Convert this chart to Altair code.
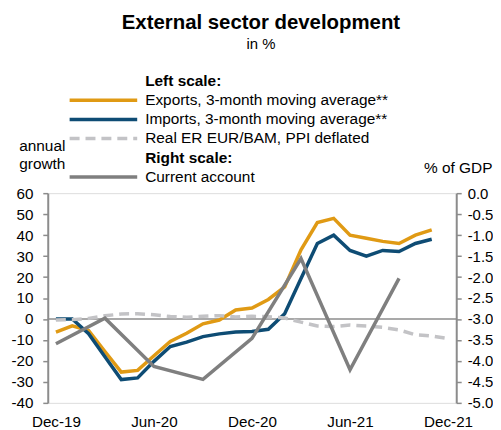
import altair as alt
import pandas as pd

# ---------------- data ----------------
months = ["Dec-19", "Jan-20", "Feb-20", "Mar-20", "Apr-20", "May-20", "Jun-20",
          "Jul-20", "Aug-20", "Sep-20", "Oct-20", "Nov-20", "Dec-20", "Jan-21",
          "Feb-21", "Mar-21", "Apr-21", "May-21", "Jun-21", "Jul-21", "Aug-21",
          "Sep-21", "Oct-21", "Nov-21", "Dec-21"]
x_tick_labels = ["Dec-19", "Jun-20", "Dec-20", "Jun-21", "Dec-21"]
left_ticks = [-40, -30, -20, -10, 0, 10, 20, 30, 40, 50, 60]
right_ticks = [-5.0, -4.5, -4.0, -3.5, -3.0, -2.5, -2.0, -1.5, -1.0, -0.5, 0.0]

exports = [-6.3, -3.3, -5.5, -15.5, -25.3, -24.5, -17.5, -10.7, -6.8, -2.3, -0.5,
           4.3, 5.2, 9.3, 15.3, 33.0, 46.0, 48.0, 40.0, 38.5, 37.0, 36.0, 40.0, 42.5]
imports = [0.0, 0.0, -7.0, -18.0, -28.9, -28.1, -20.2, -13.1, -11.0, -8.4, -7.1,
           -6.2, -6.0, -4.9, 2.5, 19.3, 36.0, 40.0, 32.7, 30.0, 32.7, 32.2, 36.0, 38.0]
real_er = [-0.5, -0.3, 0.3, 1.5, 2.4, 2.5, 2.0, 1.2, 0.8, 1.3, 1.6, 1.0, 1.3,
           1.1, 0.5, -1.5, -3.3, -3.6, -2.9, -3.3, -4.0, -5.2, -7.5, -8.1, -9.3]
ca_quarters = ["Dec-19", "Mar-20", "Jun-20", "Sep-20", "Dec-20", "Mar-21", "Jun-21", "Sep-21"]
current_account = [-3.59, -2.98, -4.13, -4.44, -3.46, -1.56, -4.21, -2.03]

legend_labels = ["Exports, 3-month moving average**",
                 "Imports, 3-month moving average**",
                 "Real ER EUR/BAM, PPI deflated",
                 "Current account"]
legend_heads = ["Left scale:", "Right scale:"]

FONT = "Liberation Sans"
W, H = 411, 211
C_EXP = "#E09A14"
C_IMP = "#0E4C74"
C_ER = "#C3C3C6"
C_CA = "#7F7F7F"
C_AX = "#8C8C8C"

exp_df = pd.DataFrame({"month": months[:len(exports)], "value": exports})
imp_df = pd.DataFrame({"month": months[:len(imports)], "value": imports})
er_df = pd.DataFrame({"month": months, "value": real_er})
ca_df = pd.DataFrame({"month": ca_quarters, "value": current_account})

x_scale = alt.Scale(type="point", domain=months, padding=0.5)
x_axis = alt.Axis(values=x_tick_labels, labelAngle=0, domain=False, ticks=False,
                  labelPadding=12, labelFontSize=15.3, labelColor="#000000",
                  labelFont=FONT, title=None, grid=False)
X = alt.X("month:O", scale=x_scale, axis=x_axis)

left_scale = alt.Scale(domain=[-40, 60], nice=False, zero=False)
left_axis = alt.Axis(values=left_ticks, orient="left", domainColor=C_AX, domainWidth=2,
                     tickColor=C_AX, tickWidth=1.5, tickSize=5, labelPadding=10,
                     labelFontSize=15.3, labelColor="#000000", labelFont=FONT,
                     title=None, grid=False,
                     labelExpr="replace(format(datum.value, 'd'), '\u2212', '-')")
right_scale = alt.Scale(domain=[-5, 0], nice=False, zero=False)
right_axis = alt.Axis(values=right_ticks, orient="right", domainColor=C_AX, domainWidth=2,
                      tickColor=C_AX, tickWidth=1.5, tickSize=5, labelPadding=6,
                      labelFontSize=15, labelColor="#000000", labelFont=FONT,
                      title=None, grid=False,
                      labelExpr="replace(format(datum.value, '.1f'), '\u2212', '-')")


def YL(field="value"):
    return alt.Y(f"{field}:Q", scale=left_scale, axis=left_axis)


zero_rule = alt.Chart(pd.DataFrame({"value": [0]})).mark_rule(
    color=C_AX, strokeWidth=1.5).encode(y=YL())

exp_line = alt.Chart(exp_df).mark_line(color=C_EXP, strokeWidth=3.5).encode(x=X, y=YL())
imp_line = alt.Chart(imp_df).mark_line(color=C_IMP, strokeWidth=3.5).encode(x=X, y=YL())
er_line = alt.Chart(er_df).mark_line(color=C_ER, strokeWidth=3.5,
                                      strokeDash=[10, 6]).encode(x=X, y=YL())

ca_line = alt.Chart(ca_df).mark_line(color=C_CA, strokeWidth=3.5).encode(
    x=X, y=alt.Y("value:Q", scale=right_scale, axis=right_axis))


def text_layer(txt, x, y, size=15.5, bold=False, align="left"):
    return alt.Chart(pd.DataFrame({"t": [txt]})).mark_text(
        align=align, baseline="middle", font=FONT, fontSize=size,
        fontWeight="bold" if bold else "normal", color="#000000"
    ).encode(text="t:N", x=alt.value(x), y=alt.value(y))


def legend_rule(color, y, dash=None):
    kw = dict(color=color, strokeWidth=3.5)
    if dash:
        kw["strokeDash"] = dash
    return alt.Chart(pd.DataFrame({"t": [0]})).mark_rule(**kw).encode(
        x=alt.value(22), x2=alt.value(90), y=alt.value(y))


annotations = [
    text_layer("External sector development", 214.5, -171, size=20.5, bold=True, align="center"),
    text_layer("in %", 214.5, -150, size=15, align="center"),
    text_layer(legend_heads[0], 98, -113, bold=True),
    legend_rule(C_EXP, -93.5),
    text_layer(legend_labels[0], 98, -93.5),
    legend_rule(C_IMP, -74.2),
    text_layer(legend_labels[1], 98, -74.2),
    legend_rule(C_ER, -55, dash=[10, 6]),
    text_layer(legend_labels[2], 98, -55),
    text_layer(legend_heads[1], 98, -35.3, bold=True),
    legend_rule(C_CA, -16.3),
    text_layer(legend_labels[3], 98, -16.3),
    text_layer("annual", -5.5, -47, align="center"),
    text_layer("growth", -5.5, -29, align="center"),
    text_layer("% of GDP", 413, -25, align="center"),
]

left = alt.layer(zero_rule, exp_line, imp_line, er_line, *annotations)

chart = alt.layer(left, ca_line).resolve_scale(y="independent").properties(
    width=W, height=H,
    padding={"left": 40, "top": 185, "right": 37, "bottom": 30},
    autosize=alt.AutoSizeParams(type="none"),
).configure_view(stroke=None).configure(font=FONT, background="white")

chart.save("out.html", embed_options={"renderer": "svg", "actions": False})
